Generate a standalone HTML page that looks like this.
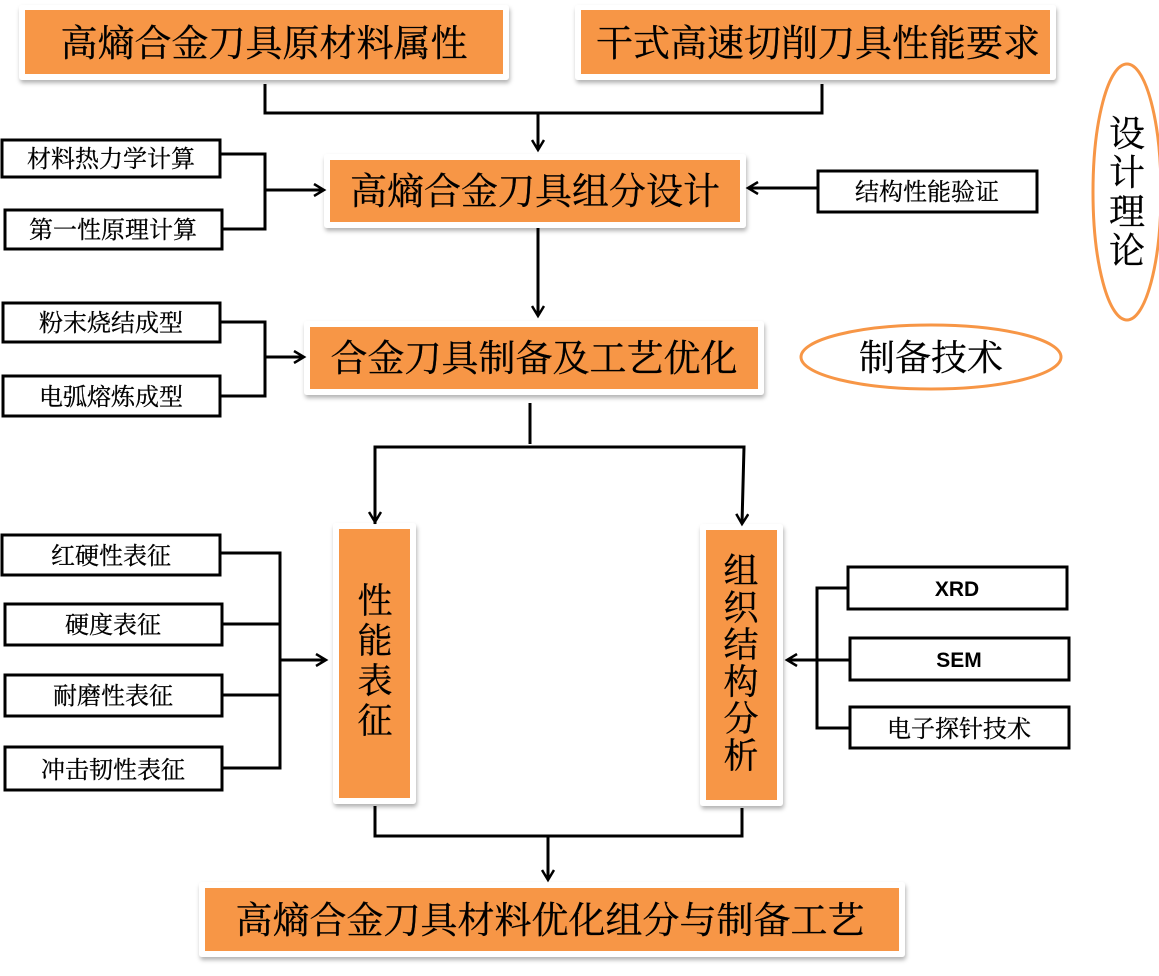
<!DOCTYPE html>
<html><head><meta charset="utf-8"><style>
html,body{margin:0;padding:0;background:#fff;}
svg text{font-family:"Liberation Sans","Noto Sans CJK SC",sans-serif;fill:#000;}
.cn{font-family:"Noto Serif CJK SC","Noto Sans CJK SC",serif !important;stroke:#000;stroke-width:0.3;}
</style></head><body>
<svg width="1159" height="971" viewBox="0 0 1159 971" xmlns="http://www.w3.org/2000/svg">
<defs>
<filter id="sh" x="-5%" y="-5%" width="110%" height="120%"><feDropShadow dx="1" dy="3" stdDeviation="2" flood-color="#000" flood-opacity="0.3"/></filter>
<marker id="ar" markerWidth="14" markerHeight="14" refX="11" refY="7" orient="auto" markerUnits="userSpaceOnUse"><path d="M1,1 L11,7 L1,13" fill="none" stroke="#000" stroke-width="2.5"/></marker>
</defs>
<g fill="#fff" filter="url(#sh)">
<rect x="19" y="5" width="490" height="75" rx="3"/>
<rect x="575" y="5" width="481" height="75" rx="3"/>
<rect x="324" y="154" width="422" height="74" rx="3"/>
<rect x="304" y="321" width="460" height="74" rx="3"/>
<rect x="333" y="523" width="83" height="281" rx="3"/>
<rect x="700" y="524" width="83" height="282" rx="3"/>
<rect x="199" y="882" width="706" height="75" rx="3"/>
</g>
<g fill="#F79646">
<rect x="25" y="10" width="478" height="64"/>
<rect x="581" y="10" width="469" height="64"/>
<rect x="330" y="160" width="410" height="62"/>
<rect x="310" y="327" width="448" height="62"/>
<rect x="339" y="529" width="71" height="269"/>
<rect x="706" y="530" width="71" height="270"/>
<rect x="205" y="888" width="694" height="63"/>
</g>
<g text-anchor="middle">
<text x="264" y="56" font-size="37" class="cn">高熵合金刀具原材料属性</text>
<text x="818" y="56" font-size="37" class="cn">干式高速切削刀具性能要求</text>
<text x="535" y="204" font-size="37" class="cn">高熵合金刀具组分设计</text>
<text x="534" y="371" font-size="37" class="cn">合金刀具制备及工艺优化</text>
<text x="550" y="933" font-size="37" class="cn">高熵合金刀具材料优化组分与制备工艺</text>
</g>
<g font-size="35" text-anchor="middle">
<text x="375" y="613" class="cn">性</text><text x="375" y="653" class="cn">能</text><text x="375" y="693" class="cn">表</text><text x="375" y="733" class="cn">征</text>
<text x="741" y="583" class="cn">组</text><text x="741" y="620" class="cn">织</text><text x="741" y="657" class="cn">结</text><text x="741" y="694" class="cn">构</text><text x="741" y="731" class="cn">分</text><text x="741" y="768" class="cn">析</text>
</g>
<g fill="#fff" stroke="#000" stroke-width="3">
<rect x="2" y="140" width="218" height="37"/>
<rect x="5" y="210" width="217" height="39"/>
<rect x="818" y="171" width="219" height="41"/>
<rect x="3" y="303" width="217" height="39"/>
<rect x="3" y="376" width="217" height="40"/>
<rect x="2" y="535" width="218" height="40"/>
<rect x="5" y="604" width="217" height="41"/>
<rect x="5" y="675" width="217" height="41"/>
<rect x="5" y="747" width="217" height="43"/>
<rect x="848" y="567" width="219" height="42"/>
<rect x="850" y="638" width="219" height="42"/>
<rect x="850" y="707" width="219" height="41"/>
</g>
<g font-size="24" text-anchor="middle">
<text x="111" y="167" class="cn">材料热力学计算</text>
<text x="113" y="238" class="cn">第一性原理计算</text>
<text x="927" y="200" class="cn">结构性能验证</text>
<text x="111" y="331" class="cn">粉末烧结成型</text>
<text x="111" y="405" class="cn">电弧熔炼成型</text>
<text x="111" y="564" class="cn">红硬性表征</text>
<text x="113" y="633" class="cn">硬度表征</text>
<text x="113" y="704" class="cn">耐磨性表征</text>
<text x="113" y="778" class="cn">冲击韧性表征</text>
<text x="957" y="596" font-weight="bold" font-size="21">XRD</text>
<text x="959" y="667" font-weight="bold" font-size="21">SEM</text>
<text x="959" y="737" class="cn">电子探针技术</text>
</g>
<g fill="none" stroke="#000" stroke-width="3">
<polyline points="265,84 265,113 822,113 822,84"/>
<line x1="538" y1="113" x2="538" y2="150" marker-end="url(#ar)"/>
<polyline points="220,154 265,154 265,229 222,229"/>
<line x1="265" y1="190" x2="324" y2="190" marker-end="url(#ar)"/>
<line x1="818" y1="188" x2="748" y2="188" marker-end="url(#ar)"/>
<line x1="538" y1="228" x2="538" y2="316" marker-end="url(#ar)"/>
<polyline points="220,322 265,322 265,396 220,396"/>
<line x1="265" y1="357" x2="304" y2="357" marker-end="url(#ar)"/>
<line x1="530" y1="403" x2="530" y2="444"/>
<polyline points="375,524 375,447 744,447 742,524" marker-end="url(#ar)"/>
<line x1="375" y1="447" x2="375" y2="522" marker-end="url(#ar)"/>
<polyline points="220,553 280,553 280,768 222,768"/>
<line x1="222" y1="624" x2="280" y2="624"/><line x1="222" y1="695" x2="280" y2="695"/>
<line x1="280" y1="660" x2="326" y2="660" marker-end="url(#ar)"/>
<polyline points="848,588 817,588 817,728 850,728"/>
<line x1="850" y1="660" x2="787" y2="660" marker-end="url(#ar)"/>
<polyline points="375,806 375,836 742,836 742,808"/>
<line x1="548" y1="836" x2="548" y2="880" marker-end="url(#ar)"/>
</g>
<ellipse cx="1127" cy="192" rx="34" ry="128" fill="#fff" stroke="#F79646" stroke-width="3"/>
<g font-size="36" text-anchor="middle">
<text x="1127" y="146" class="cn">设</text><text x="1127" y="185" class="cn">计</text><text x="1127" y="224" class="cn">理</text><text x="1127" y="263" class="cn">论</text>
</g>
<ellipse cx="931" cy="357" rx="130" ry="32" fill="#fff" stroke="#F79646" stroke-width="3"/>
<text x="931" y="370" font-size="36" text-anchor="middle" class="cn">制备技术</text>
</svg>
</body></html>
